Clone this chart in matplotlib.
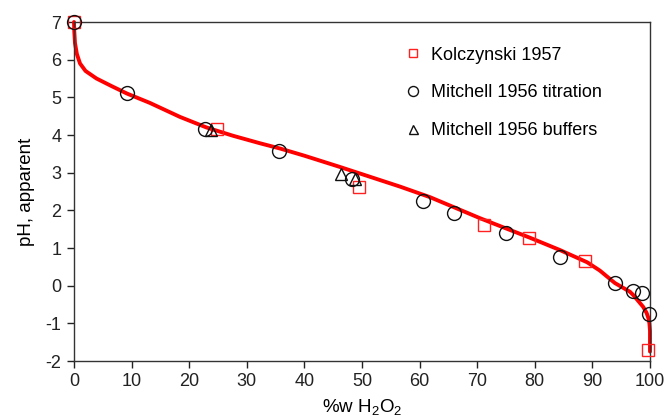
import matplotlib
matplotlib.use("Agg")
import matplotlib.pyplot as plt

plt.rcParams['font.family'] = ['Liberation Sans', 'DejaVu Sans']
plt.rcParams['mathtext.fontset'] = 'custom'
plt.rcParams['mathtext.rm'] = 'Liberation Sans'
plt.rcParams['axes.unicode_minus'] = False

# Kolczynski 1957
kol_x = [0.0, 24.8, 49.5, 71.2, 79.0, 88.7, 99.7]
kol_y = [7.0, 4.15, 2.63, 1.61, 1.27, 0.66, -1.71]

# Mitchell 1956 titration
mit_t_x = [0.0, 9.2, 22.7, 35.6, 48.3, 60.6, 66.0, 75.0, 84.3, 93.9, 97.0, 98.6, 99.8]
mit_t_y = [7.0, 5.12, 4.15, 3.58, 2.84, 2.25, 1.94, 1.4, 0.77, 0.06, -0.13, -0.19, -0.75]

# Mitchell 1956 buffers
mit_b_x = [23.8, 46.4, 48.8]
mit_b_y = [4.12, 2.96, 2.82]

# fitted curve
fit_x = [0.0, 0.05, 0.17, 0.5, 1.04, 2.0, 3.9, 6.5, 9.2, 13.2, 18.4, 23.0, 27.6,
         32.3, 35.8, 40.0, 46.2, 51.0, 56.6, 61.8, 66.0, 70.5, 75.0, 79.2, 84.3,
         89.1, 91.3, 93.9, 96.5, 97.1, 98.8, 99.4, 99.7, 99.9, 100.0, 100.0]
fit_y = [7.0, 6.75, 6.44, 6.15, 5.9, 5.7, 5.5, 5.3, 5.1, 4.85, 4.48, 4.2, 3.98,
         3.78, 3.64, 3.45, 3.15, 2.91, 2.63, 2.35, 2.08, 1.79, 1.52, 1.27, 0.95,
         0.62, 0.4, 0.07, -0.16, -0.25, -0.56, -0.72, -0.85, -1.0, -1.2, -1.75]

fig = plt.figure(figsize=(6.67, 4.18), dpi=100)
ax = fig.add_axes([74/667, 57/418, 576/667, 339/418])

ax.plot(fit_x, fit_y, color='#ff0000', lw=2.8, zorder=2, solid_capstyle='round',
        solid_joinstyle='round', clip_on=False)
ax.plot(kol_x, kol_y, ls='none', marker='s', ms=8, mfc='none', mec='#ff2020',
        mew=1.0, zorder=3, label='Kolczynski 1957', clip_on=False)
ax.plot(mit_t_x, mit_t_y, ls='none', marker='o', ms=10, mfc='none', mec='#111111',
        mew=1.0, zorder=4, label='Mitchell 1956 titration', clip_on=False)
ax.plot(mit_b_x, mit_b_y, ls='none', marker='^', ms=9, mfc='none', mec='#111111',
        mew=1.0, zorder=4, label='Mitchell 1956 buffers', clip_on=False)

ax.set_xlim(0, 100)
ax.set_ylim(-2, 7)
ax.set_xticks(range(0, 101, 10))
ax.set_yticks(range(-2, 8))
ax.tick_params(direction='out', length=5, width=1, labelsize=13, pad=4,
               top=False, right=False, colors='#222222')
for s in ax.spines.values():
    s.set_linewidth(1.0)
    s.set_color('#333333')

ax.set_ylabel('pH, apparent', fontsize=13.5, labelpad=8)
ax.set_xlabel(r'%w H$_\mathregular{2}$O$_\mathregular{2}$', fontsize=13.5, labelpad=5)

ax.legend(loc='upper left', bbox_to_anchor=(0.545, 0.975), frameon=False,
          fontsize=13, markerscale=0.72, handlelength=1.0, handletextpad=0.5,
          labelspacing=1.15)

fig.savefig('out.png', dpi=100)
